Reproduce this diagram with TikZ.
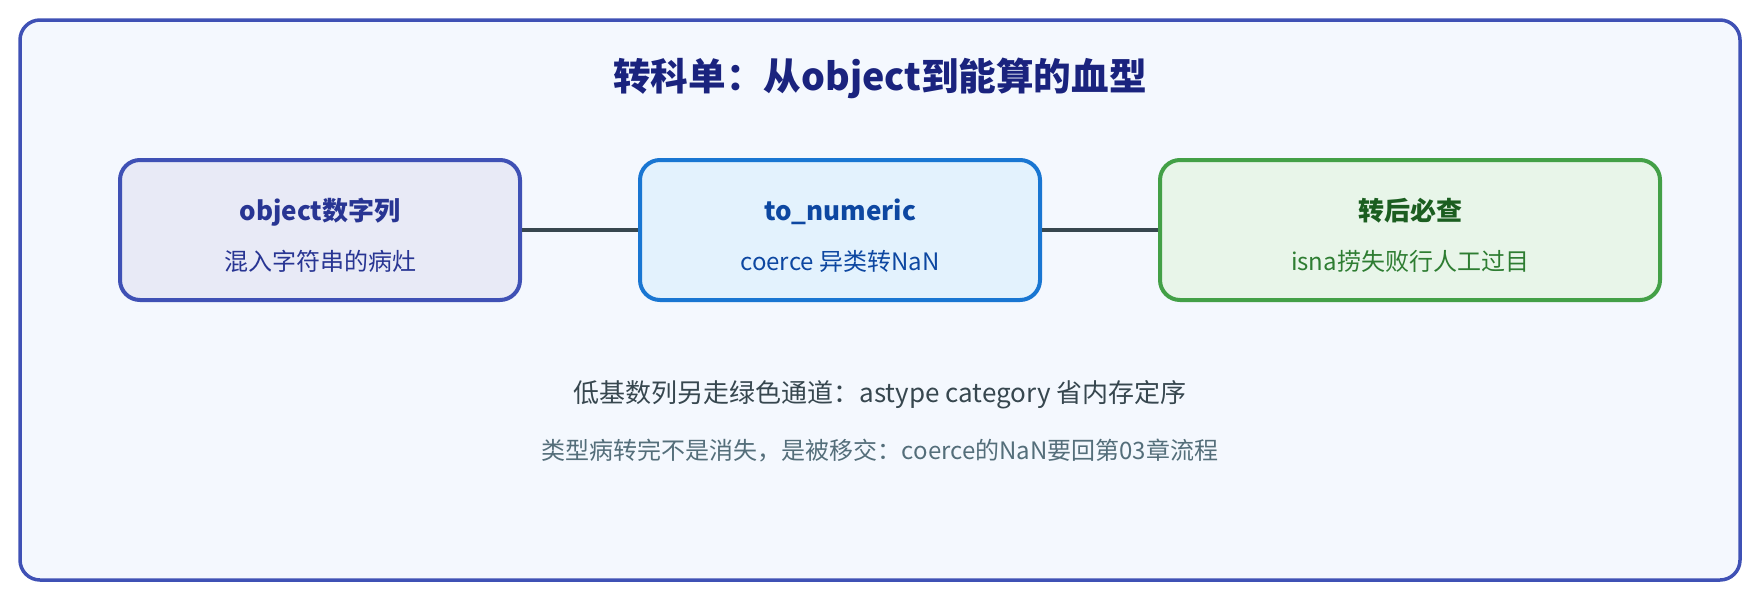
\documentclass[tikz,border=0pt]{standalone}
\usepackage{fontspec}
\setmainfont{Noto Sans CJK SC}
\usetikzlibrary{positioning}
\usepackage{xcolor}
\definecolor{frameBlue}{HTML}{3F51B5}
\definecolor{frameFill}{HTML}{F4F8FE}
\definecolor{titleNavy}{HTML}{1A237E}
\definecolor{objFill}{HTML}{E8EAF6}
\definecolor{objText}{HTML}{283593}
\definecolor{numFill}{HTML}{E3F2FD}
\definecolor{numLine}{HTML}{1976D2}
\definecolor{numText}{HTML}{0D47A1}
\definecolor{chkFill}{HTML}{E8F5E9}
\definecolor{chkLine}{HTML}{43A047}
\definecolor{chkTitle}{HTML}{1B5E20}
\definecolor{chkText}{HTML}{2E7D32}
\definecolor{slateText}{HTML}{37474F}
\definecolor{greyText}{HTML}{546E7A}
\newcommand{\boxHeight}{70pt}
\newcommand{\rowY}{115}

\begin{document}
\begin{tikzpicture}[x=1pt, y=-1pt,
  stageBox/.style={draw, line width=2pt, rounded corners=10pt, minimum height=\boxHeight, inner sep=0pt},
  boxTitle/.style={anchor=base, inner sep=0pt, font=\fontsize{13}{15}\selectfont\bfseries},
  boxSub/.style={anchor=base, inner sep=0pt, font=\fontsize{12}{14}\selectfont},
  link/.style={draw=slateText, line width=2pt}]
\useasboundingbox (0,0) rectangle (880,300);
\draw[frameBlue, fill=frameFill, line width=1.75pt, rounded corners=10pt] (10,10) rectangle (870,290);

\node[anchor=base, inner sep=0pt, text=titleNavy, font=\fontsize{18.8}{21}\selectfont\bfseries] (title) at (440,45) {转科单：从object到能算的血型};

\node[stageBox, draw=frameBlue, fill=objFill, minimum width=200pt] (objBox) at (160,\rowY) {};
\node[stageBox, draw=numLine, fill=numFill, minimum width=200pt] (numBox) at (420,\rowY) {};
\node[stageBox, draw=chkLine, fill=chkFill, minimum width=250pt] (chkBox) at (705,\rowY) {};

\draw[link] (objBox) -- (numBox);
\draw[link] (numBox) -- (chkBox);

\node[boxTitle, text=objText] (objTitle) at (160,110) {object数字列};
\node[boxSub, text=objText] (objSub) at (160,135) {混入字符串的病灶};
\node[boxTitle, text=numText] (numTitle) at (420,110) {to\_numeric};
\node[boxSub, text=numText] (numSub) at (420,135) {coerce 异类转NaN};
\node[boxTitle, text=chkTitle] (chkTitle) at (705,110) {转后必查};
\node[boxSub, text=chkText] (chkSub) at (705,135) {isna捞失败行人工过目};

\node[anchor=base, inner sep=0pt, text=slateText, font=\fontsize{13}{15}\selectfont] (noteOne) at (440,201) {低基数列另走绿色通道：astype category 省内存定序};
\node[anchor=base, inner sep=0pt, text=greyText, font=\fontsize{12}{14}\selectfont] (noteTwo) at (440,229.5) {类型病转完不是消失，是被移交：coerce的NaN要回第03章流程};
\end{tikzpicture}
\end{document}
